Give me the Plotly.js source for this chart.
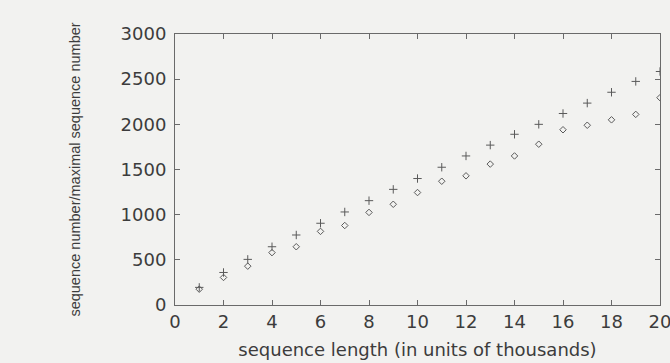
<!DOCTYPE html>
<html><head><meta charset="utf-8">
<script src="https://cdn.plot.ly/plotly-3.0.1.min.js"></script>
<style>body{margin:0;background:#f2f2f0;}</style>
</head><body><div id="chart" style="width:670px;height:363px;"></div>
<script>
const seqLength = [1,2,3,4,5,6,7,8,9,10,11,12,13,14,15,16,17,18,19,20];
const maximalSeqNumber = [195,360,505,645,775,905,1030,1155,1280,1400,1525,1650,1770,1890,2000,2120,2235,2355,2475,2585];
const seqNumber = [175,305,430,580,645,815,880,1025,1115,1245,1370,1430,1560,1650,1780,1940,1990,2050,2110,2295];
const xTicks = [0,2,4,6,8,10,12,14,16,18,20];
const yTicks = [0,500,1000,1500,2000,2500,3000];

const col = '#5a5a5a';
const traces = [
  {x: seqLength, y: maximalSeqNumber, mode: 'markers', type: 'scatter', name: 'maximal sequence number',
   marker: {symbol: 'cross-thin-open', size: 6, color: col, line: {color: col, width: 1}}},
  {x: seqLength, y: seqNumber, mode: 'markers', type: 'scatter', name: 'sequence number',
   marker: {symbol: 'diamond-open', size: 5, color: col, line: {color: col, width: 1}}}
];
const tf = {family: 'DejaVu Sans, sans-serif', size: 18, color: '#3c3c3c'};
const axisCommon = {showgrid: false, zeroline: false, showline: true, linecolor: '#6a6a6a', linewidth: 1,
  mirror: 'ticks', ticks: 'inside', ticklen: 5, tickcolor: '#6a6a6a', tickfont: tf,
  ticklabeloverflow: 'allow'};
const layout = {
  width: 670, height: 363,
  margin: {l: 175, r: 10, t: 34, b: 58},
  paper_bgcolor: '#f2f2f0', plot_bgcolor: '#f2f2f0',
  showlegend: false,
  xaxis: Object.assign({}, axisCommon, {range: [0, 20], tickvals: xTicks, ticktext: xTicks.map(String),
    title: {text: 'sequence length (in units of thousands)', standoff: 12,
      font: {family: 'DejaVu Sans, sans-serif', size: 18, color: '#3c3c3c'}}}),
  yaxis: Object.assign({}, axisCommon, {range: [0, 3000], tickvals: yTicks, ticktext: yTicks.map(String),
    ticklabelstandoff: 4,
    title: {text: 'sequence number/maximal sequence number', standoff: 36,
      font: {family: 'Liberation Sans, Arial, sans-serif', size: 14.5, color: '#3c3c3c'}}})
};
Plotly.newPlot('chart', traces, layout, {displayModeBar: false, staticPlot: true});
</script></body></html>
